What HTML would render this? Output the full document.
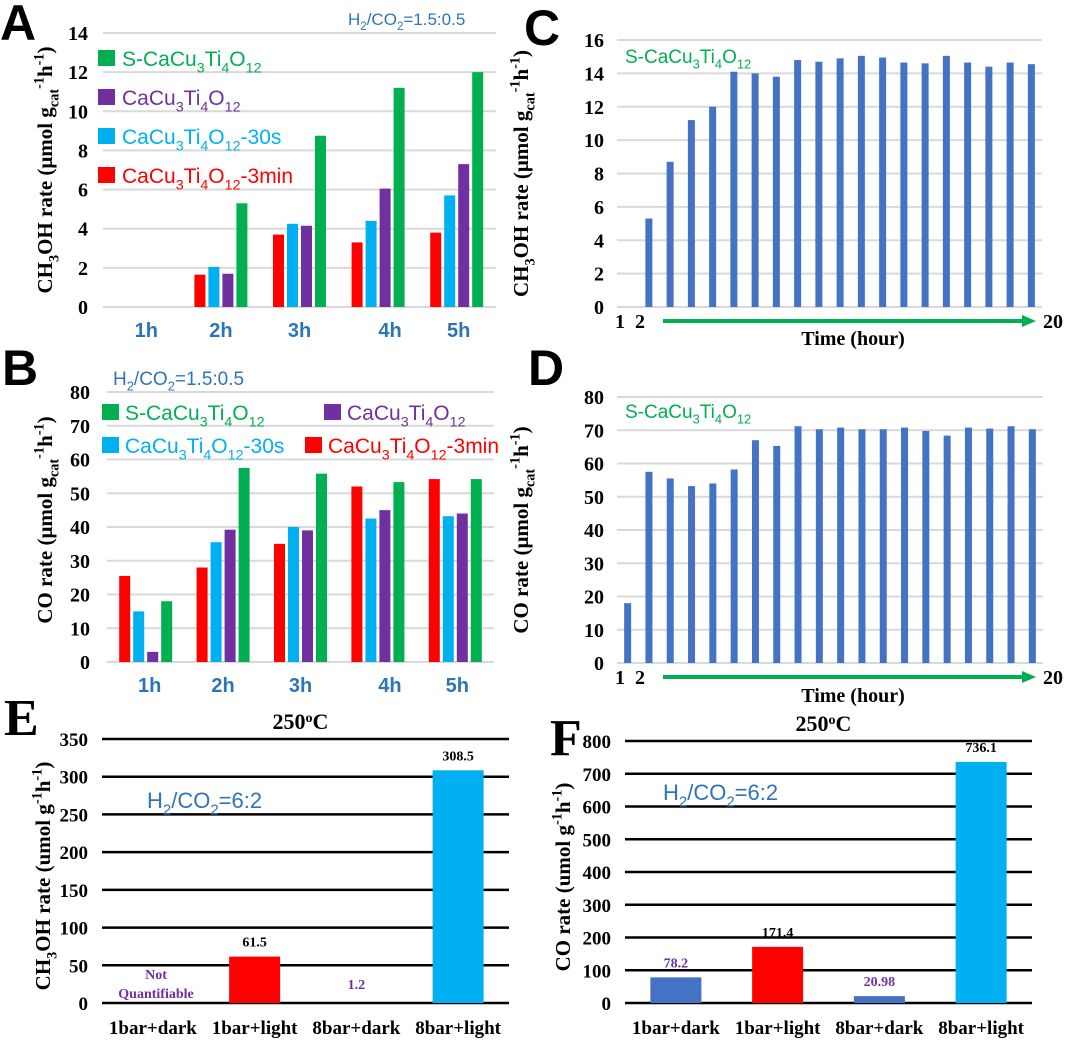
<!DOCTYPE html>
<html><head><meta charset="utf-8"><style>
html,body{margin:0;padding:0;background:#fff}
svg{display:block}
</style></head><body>
<svg id="fig" width="1080" height="1043" viewBox="0 0 1080 1043" xmlns="http://www.w3.org/2000/svg">
<rect x="0" y="0" width="1080" height="1043" fill="#ffffff"/>
<g id="root"></g>
</svg>
<script>
// ---------- DATA ----------
const groupCats = ["1h","2h","3h","4h","5h"];
const seriesNames = ["CaCu3Ti4O12-3min","CaCu3Ti4O12-30s","CaCu3Ti4O12","S-CaCu3Ti4O12"];
const seriesColors = ["#ff0000","#00b0f0","#7030a0","#00b050"];
const aRed = [0,1.65,3.7,3.3,3.8];
const aBlue = [0,2.05,4.25,4.4,5.7];
const aPurple = [0,1.7,4.15,6.05,7.3];
const aGreen = [0,5.3,8.75,11.2,12];
const bRed = [25.5,28,35,52,54.2];
const bBlue = [15,35.5,40,42.5,43.2];
const bPurple = [3,39.2,39,45,44];
const bGreen = [18,57.5,55.8,53.3,54.2];
const aTicks = [0,2,4,6,8,10,12,14];
const bTicks = [0,10,20,30,40,50,60,70,80];
const cValues = [0,5.3,8.7,11.2,12,14.1,14,13.8,14.8,14.7,14.9,15.05,14.95,14.65,14.6,15.05,14.65,14.4,14.65,14.55];
const dValues = [18,57.5,55.5,53.2,54,58.2,67,65.3,71.2,70.3,70.8,70.3,70.3,70.8,69.8,68.4,70.8,70.5,71.2,70.3];
const cTicks = [0,2,4,6,8,10,12,14,16];
const dTicks = [0,10,20,30,40,50,60,70,80];
const condCats = ["1bar+dark","1bar+light","8bar+dark","8bar+light"];
const eValues = [0,61.5,0,308.5];
const eLabels = ["","61.5","1.2","308.5"];
const fValues = [78.2,171.4,20.98,736.1];
const fLabels = ["78.2","171.4","20.98","736.1"];
const eTicks = [0,50,100,150,200,250,300,350];
const fTicks = [0,100,200,300,400,500,600,700,800];

// ---------- HELPERS ----------
const NS="http://www.w3.org/2000/svg";
const root=document.getElementById('root');
function mk(tag,attrs,parent){const e=document.createElementNS(NS,tag);for(const k in attrs)e.setAttribute(k,attrs[k]);(parent||root).appendChild(e);return e;}
function scale(v,vmax,y0,yTop){return y0-(v/vmax)*(y0-yTop);}
function fillParts(t,parts,size){
  let off=0;
  parts.forEach(p=>{const s=mk('tspan',{},t);s.textContent=p[0];
    let target=0;
    if(p[1]==='sub'){target=size*0.3;s.setAttribute('font-size',size*0.68);}
    if(p[1]==='sup'){target=-size*0.4;s.setAttribute('font-size',size*0.68);}
    if(target!==off){s.setAttribute('dy',target-off);off=target;}
  });
}
function formula(parent,x,y,parts,size,color,weight,anchor,family){
  const t=mk('text',{x:x,y:y,'font-family':family||'"Liberation Sans",sans-serif','font-size':size,fill:color,'font-weight':weight||'normal','text-anchor':anchor||'start'},parent);
  fillParts(t,parts,size);
  return t;
}
const ccto=[["CaCu",'n'],["3",'sub'],["Ti",'n'],["4",'sub'],["O",'n'],["12",'sub']];
function cctoParts(prefix,suffix){let p=ccto.slice();if(prefix)p=[[prefix,'n']].concat(p);if(suffix)p=p.concat([[suffix,'n']]);return p;}
const h2co2=(r)=>[["H",'n'],["2",'sub'],["/CO",'n'],["2",'sub'],["="+r,'n']];
function ytitle(parent,cx,cy,parts,size){
  const g=mk('g',{transform:`translate(${cx},${cy}) rotate(-90)`},parent);
  const t=mk('text',{x:0,y:0,'font-family':'"Liberation Serif",serif','font-size':size,'font-weight':'bold','text-anchor':'middle',fill:'#000'},g);
  fillParts(t,parts,size);
  
  
  return g;
}
function panelLetter(x,y,ch,serif,name){
  const t=mk('text',{x:x,y:y,'font-family':serif?'"Liberation Serif",serif':'"Liberation Sans",sans-serif','font-size':serif?52:50,'font-weight':'bold',fill:'#000'});
  t.textContent=ch;
  
  
}
function grid(parent,ticks,vmax,x0,x1,y0,yTop,color,w,labelX,fs){
  ticks.forEach(v=>{const y=scale(v,vmax,y0,yTop);
    const l=mk('line',{x1:x0,x2:x1,y1:y,y2:y,stroke:color,'stroke-width':w},parent);
    
    
    const t=mk('text',{x:labelX,y:y+7,'text-anchor':'end','font-family':'"Liberation Serif",serif','font-size':fs,'font-weight':'bold',fill:'#000'},parent);
    t.textContent=v;
    
    
  });
}
function groupedBars(parent,series,vmax,x0,x1,y0,yTop,bw,gap){
  const slot=(x1-x0)/groupCats.length;
  const tot=series.length*bw+(series.length-1)*gap;
  groupCats.forEach((c,i)=>{
    const cx=x0+slot*(i+0.5);
    series.forEach((arr,s)=>{
      const v=arr[i]; if(v<=0) return;
      const y=scale(v,vmax,y0,yTop);
      const r=mk('rect',{x:cx-tot/2+s*(bw+gap),y:y,width:bw,height:y0-y,fill:seriesColors[s]},parent);
      
      
    });
  });
}
function groupLabels(parent,x0,x1,y,offs){
  const slot=(x1-x0)/groupCats.length;
  groupCats.forEach((c,i)=>{
    const t=mk('text',{x:x0+slot*(i+0.5)+offs[i],y:y,'text-anchor':'middle','font-family':'"Liberation Sans",sans-serif','font-size':20,'font-weight':'bold',fill:'#2e75b6'},parent);
    t.textContent=c;
    
    
  });
}
function legendSwatch(parent,x,y,color,name){
  const r=mk('rect',{x:x,y:y,width:17,height:16,fill:color},parent);
  
  
}

// ---------- PANEL A ----------
const gA=mk('g',{});


panelLetter(0,40,'A',false,'panel-a-letter');
grid(gA,aTicks,14,103,496,307,33,'#d9d9d9',2,88,20);
groupedBars(gA,[aRed,aBlue,aPurple,aGreen],14,103,496,307,33,11,3);
groupLabels(gA,103,496,337,[4,0,0,12,2]);
ytitle(gA,52,170,[["CH",'n'],["3",'sub'],["OH rate (μmol g",'n'],["cat",'sub'],["-1",'sup'],["h",'n'],["-1",'sup'],[")",'n']],21);
let tA=formula(gA,348,25,h2co2("1.5:0.5"),17,'#2e75b6');


[[3,'S-',''],[2,'',''],[1,'','-30s'],[0,'','-3min']].forEach((d,k)=>{
  const y=50+k*39;
  legendSwatch(gA,98,y,seriesColors[d[0]],'legend-swatch-a-'+k);
  const t=formula(gA,122,y+16,cctoParts(d[1],d[2]),21,seriesColors[d[0]]);
  
  
});

// ---------- PANEL B ----------
const gB=mk('g',{});


panelLetter(2,385,'B',false,'panel-b-letter');
grid(gB,bTicks,80,107,494,662,392,'#d9d9d9',2,90,20);
groupedBars(gB,[bRed,bBlue,bPurple,bGreen],80,107,494,662,392,11,3);
groupLabels(gB,107,494,692,[4,0,0,12,2]);
ytitle(gB,52,520,[["CO rate (μmol g",'n'],["cat",'sub'],["-1",'sup'],["h",'n'],["-1",'sup'],[")",'n']],21);
let tB=formula(gB,113,385,h2co2("1.5:0.5"),19,'#2e75b6');


[[3,'S-','',102,404],[2,'','',324,404],[1,'','-30s',102,437],[0,'','-3min',305,437]].forEach((d,k)=>{
  legendSwatch(gB,d[3],d[4],seriesColors[d[0]],'legend-swatch-b-'+k);
  const t=formula(gB,d[3]+23,d[4]+16,cctoParts(d[1],d[2]),21,seriesColors[d[0]]);
  
  
});

// ---------- PANELS C, D ----------
function timePanel(name,letterX,letterY,vals,ticks,vmax,x0,x1,y0,yTop,titleParts,legY,arrowY,timeY){
  const g=mk('g',{});
  
  
  panelLetter(letterX,letterY,name==='panel-c'?'C':'D',false,name+'-letter');
  grid(g,ticks,vmax,x0,x1,y0,yTop,'#d9d9d9',2,x0-13,20);
  const slot=(x1-x0)/vals.length;
  vals.forEach((v,i)=>{ if(v<=0) return;
    const y=scale(v,vmax,y0,yTop);
    const r=mk('rect',{x:x0+slot*(i+0.5)-3.5,y:y,width:7,height:y0-y,fill:'#4472c4'},g);
    
    
  });
  ytitle(g,x0-89,(y0+yTop)/2,titleParts,21);
  const l=formula(g,625,legY,cctoParts('S-',''),19,'#00b050');
  
  
  [["1",620],["2",640],["20",1053]].forEach(d=>{
    const t=mk('text',{x:d[1],y:arrowY+7,'text-anchor':'middle','font-family':'"Liberation Serif",serif','font-size':20,'font-weight':'bold',fill:'#000'},g);
    t.textContent=d[0];
    
    
  });
  const ar=mk('line',{x1:663,x2:1026,y1:arrowY,y2:arrowY,stroke:'#00b050','stroke-width':4},g);
  
  
  const ah=mk('polygon',{points:`1022,${arrowY-6} 1036,${arrowY} 1022,${arrowY+6}`,fill:'#00b050'},g);
  
  
  const tt=mk('text',{x:853,y:timeY,'text-anchor':'middle','font-family':'"Liberation Serif",serif','font-size':20,'font-weight':'bold',fill:'#000'},g);
  tt.textContent='Time (hour)';
  
  
}
timePanel('panel-c',524,45,cValues,cTicks,16,617,1042,307,40,[["CH",'n'],["3",'sub'],["OH rate (μmol g",'n'],["cat",'sub'],["-1",'sup'],["h",'n'],["-1",'sup'],[")",'n']],63,321,345);
timePanel('panel-d',528,385,dValues,dTicks,80,617,1043,663,397,[["CO rate (μmol g",'n'],["cat",'sub'],["-1",'sup'],["h",'n'],["-1",'sup'],[")",'n']],418,677,702);

// ---------- PANELS E, F ----------
function condPanel(name,letter,letterX,letterY,vals,labels,labelColors,colors,ticks,vmax,x0,x1,y0,yTop,titleParts,titleX,ratioX,ratioY){
  const g=mk('g',{});
  
  
  panelLetter(letterX,letterY,letter,true,name+'-letter');
  grid(g,ticks,vmax,x0,x1,y0,yTop,'#000',2.5,x0-14,19);
  const slot=(x1-x0)/vals.length;
  vals.forEach((v,i)=>{
    const cx=x0+slot*(i+0.5);
    const y=scale(v,vmax,y0,yTop);
    if(v>0){
      const r=mk('rect',{x:cx-25.5,y:y,width:51,height:y0-y,fill:colors[i]},g);
      
      
    }
    if(labels[i]){
      const t=mk('text',{x:cx,y:(v>0?y-10:y0-14),'text-anchor':'middle','font-family':'"Liberation Serif",serif','font-size':14,'font-weight':'bold',fill:labelColors[i]},g);
      t.textContent=labels[i];
      
      
    }
    const xl=mk('text',{x:cx,y:1034,'text-anchor':'middle','font-family':'"Liberation Serif",serif','font-size':19,'font-weight':'bold',fill:'#000'},g);
    xl.textContent=condCats[i];
    
    
  });
  const tt=mk('text',{x:(x0+x1)/2-5,y:yTop-10,'text-anchor':'middle','font-family':'"Liberation Serif",serif','font-size':22,'font-weight':'bold',fill:'#000'},g);
  tt.innerHTML='250<tspan dy="-7" font-size="14">o</tspan><tspan dy="7">C</tspan>';
  
  
  ytitle(g,titleX,(y0+yTop)/2+5,titleParts,21);
  const rt=formula(g,ratioX,ratioY,h2co2('6:2'),22,'#2e75b6');
  
  
  return g;
}
const gE=condPanel('panel-e','E',4,735,eValues,eLabels,['#000','#000','#7030a0','#000'],['#4472c4','#ff0000','#4472c4','#00b0f0'],eTicks,350,102,509,1003,739,[["CH",'n'],["3",'sub'],["OH rate (umol g",'n'],["-1",'sup'],["h",'n'],["-1",'sup'],[")",'n']],50,147,808);
const nq=mk('text',{x:156,y:979,'text-anchor':'middle','font-family':'"Liberation Serif",serif','font-size':14,'font-weight':'bold',fill:'#7030a0'},gE);
nq.innerHTML='<tspan x="156" dy="0">Not</tspan><tspan x="156" dy="19">Quantifiable</tspan>';


condPanel('panel-f','F',550,755,fValues,fLabels,['#7030a0','#000','#7030a0','#000'],['#4472c4','#ff0000','#4472c4','#00b0f0'],fTicks,800,625,1032,1003,741,[["CO rate (umol g",'n'],["-1",'sup'],["h",'n'],["-1",'sup'],[")",'n']],570,663,800);
</script>
</body></html>
